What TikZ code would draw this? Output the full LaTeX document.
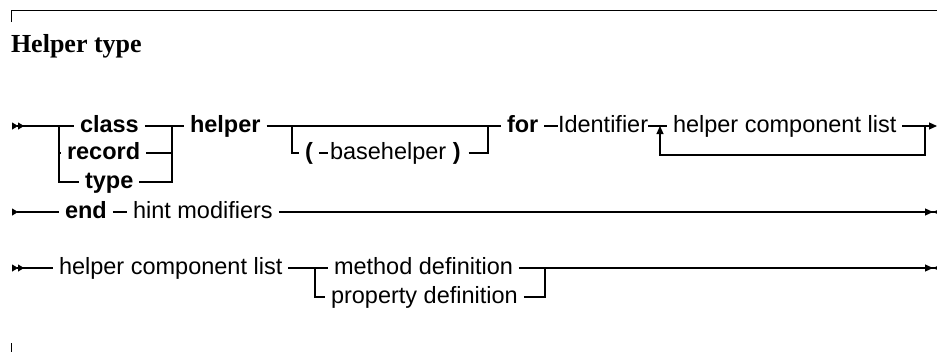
\documentclass[tikz,border=0pt]{standalone}
\usepackage{fontspec}
\setmainfont{Liberation Sans}
\newfontfamily\titlefont{Liberation Serif}
\usetikzlibrary{arrows.meta,positioning,calc}

\tikzset{
  rail/.style={line width=1.1pt},
  tok/.style={font=\fontsize{23.5}{28}\selectfont, inner xsep=0pt, inner ysep=0pt,
    outer xsep=6pt, text height=16pt, text depth=4pt, anchor=text},
  kw/.style={tok, font=\fontsize{23.5}{28}\selectfont\bfseries},
  tight/.style={outer xsep=0pt},
  startmark/.style={{Triangle[reversed,length=6pt,width=7pt]Triangle[reversed,length=6pt,width=7pt]}-},
  contin/.style={{Triangle[reversed,length=6pt,width=7pt]}-},
  contout/.style={-{Triangle[length=8pt,width=7pt]}},
  stopmark/.style={-{Triangle[length=8pt,width=7pt]Triangle[reversed,length=8pt,width=7pt]}},
}

\begin{document}
\begin{tikzpicture}[x=1pt,y=-1pt]
  \useasboundingbox (0,0) rectangle (937,351);
  % frame and title
  \draw[line width=1pt] (11,22) -- (11,10.5) -- (940,10.5);
  \draw[line width=1pt] (11,343) -- (11,352);
  \node[anchor=text, inner sep=0pt, font=\titlefont\fontsize{26}{30}\selectfont\bfseries]
    (title) at (11,52) {Helper type};

  % first line
  \coordinate (s1) at (12,126);
  \coordinate (j1) at (59,126);
  \coordinate (j2) at (172,126);
  \coordinate (j3) at (292,126);
  \coordinate (j4) at (488,126);
  \coordinate (l1) at (660,126);
  \coordinate (l2) at (925,126);
  \coordinate (e1) at (937,126);
  \node[kw] (class) at (80,132) {class};
  \node[kw] (record) at (67,159) {record};
  \node[kw] (type) at (85,188) {type};
  \node[kw] (helper) at (190,132) {helper};
  \node[kw] (lpar) at (305,159) {(};
  \node[tok,outer xsep=2pt] (base) at (330,159) {basehelper \textbf{)}};
  \node[kw] (forkw) at (507,132) {for};
  \node[tok,tight] (ident) at (558,132) {Identifier};
  \node[tok] (comp) at (673,132) {helper component list};
  \draw[rail,startmark] (s1) -- (j1) -- (class.west);
  \draw[rail] (j1) |- (record.west);
  \draw[rail] (j1) |- (type.west);
  \draw[rail] (class.east) -- (j2) -- (helper.west);
  \draw[rail] (record.east) -| (j2);
  \draw[rail] (type.east) -| (j2);
  \draw[rail] (helper.east) -- (j3) -- (j4) -- (forkw.west);
  \draw[rail] (j3) |- (lpar.west);
  \draw[rail] (lpar.east) -- (base.west);
  \draw[rail] ([xshift=6pt]base.east) -| (j4);
  \draw[rail] (forkw.east) -- (ident.west);
  \draw[rail] (ident.east) -- (l1) -- (comp.west);
  \draw[rail,contout] (comp.east) -- (l2) -- (e1);
  \draw[rail,-{Triangle[length=8pt,width=7pt]}] (l2) -- ++(0,29) -| (l1);

  % second line
  \coordinate (s2) at (12,212);
  \coordinate (e2) at (941,212);
  \node[kw] (endkw) at (65,218) {end};
  \node[tok] (hint) at (133,218) {hint modifiers};
  \draw[rail,contin] (s2) -- (endkw.west);
  \draw[rail] (endkw.east) -- (hint.west);
  \draw[rail,stopmark] (hint.east) -- (e2);

  % helper component list
  \coordinate (s3) at (12,268);
  \coordinate (j5) at (315,268);
  \coordinate (j6) at (545,268);
  \coordinate (e3) at (941,268);
  \node[tok] (list) at (59,274) {helper component list};
  \node[tok] (meth) at (334,274) {method definition};
  \node[tok] (prop) at (331,303) {property definition};
  \draw[rail,startmark] (s3) -- (list.west);
  \draw[rail] (list.east) -- (j5) -- (meth.west);
  \draw[rail] (j5) |- (prop.west);
  \draw[rail] (meth.east) -- (j6);
  \draw[rail] (prop.east) -| (j6);
  \draw[rail,stopmark] (j6) -- (e3);
\end{tikzpicture}
\end{document}
